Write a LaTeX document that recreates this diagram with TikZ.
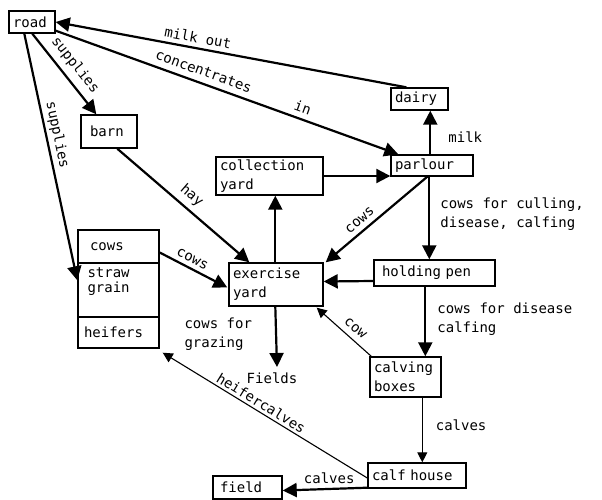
\documentclass[tikz,border=0pt]{standalone}
\usepackage{fontspec}
\newfontfamily\labfont{DejaVu Sans Mono}
\newcommand\myfs{\labfont\fontsize{14}{19}\selectfont}
\usetikzlibrary{arrows.meta,calc}
\begin{document}
\begin{tikzpicture}[x=1pt,y=-1pt,
  box/.style={draw,line width=1.4pt,inner ysep=2pt,inner xsep=4pt,align=left,font=\myfs},
  thickarrow/.style={line width=2.2pt,-{Triangle[length=14pt,width=14pt]}},
  thinarrow/.style={line width=1.1pt,-{Triangle[length=10pt,width=10pt]}},
  lab/.style={font=\myfs,inner sep=1pt},
  slab/.style={font=\myfs,inner sep=1pt,sloped}]
\useasboundingbox (0,0) rectangle (602,500);

% boxes
\node[box,text width=38pt,minimum height=22pt] (road) at (32,22) {road};
\node[box,inner xsep=9pt,text width=38pt,minimum height=33pt] (barn) at (109,131.5) {barn};
\node[box,text width=99pt,minimum height=38pt] (colly) at (269.5,176) {collection\\yard};
\node[box,text width=49pt,minimum height=22pt] (dairy) at (419.5,99) {dairy};
\node[box,text width=74pt,minimum height=21pt] (parlour) at (432,165.5) {parlour};
\node[box,text width=86pt,minimum height=43pt] (exercise) at (276,284.5) {exercise\\yard};
\node[box,inner xsep=12pt,text width=57pt,minimum height=33pt] (cows) at (118.5,246.5) {cows};
\node[draw,line width=1.4pt,minimum width=81pt,minimum height=54pt,inner sep=0pt,
  label={[font=\myfs,anchor=north west,align=left,inner sep=0pt,xshift=10pt,yshift=-5pt]north west:straw\\[-4pt]grain}]
  (straw) at (118.5,290) {};
\node[box,inner xsep=6pt,text width=69pt,minimum height=31pt] (heifers) at (118.5,332.5) {heifers};
\node[box,inner xsep=8pt,text width=105pt,minimum height=26pt] (holding) at (434.5,273) {holding pen};
\node[box,text width=63pt,minimum height=40pt] (calving) at (405.5,377) {calving\\boxes};
\node[box,text width=90pt,minimum height=25pt] (calf) at (417,475.5) {calf house};
\node[box,inner xsep=7pt,text width=55pt,minimum height=23pt] (field) at (247.5,487.5) {field};
\node[lab] (fields) at (272,378) {Fields};
\coordinate (fieldtip) at (277,367);

% connectors
\draw[thickarrow] ($(road.south west)+(24,0)$) -- ($(barn.north west)+(16,0)$)
  node[slab,pos=0.5,above=5pt] {supplies};
\draw[thickarrow] ($(road.south west)+(16,0)$) -- ($(straw.north west)+(0,18)$)
  node[slab,pos=0.42,above=2pt] {supplies};
\draw[thickarrow] ($(dairy.north west)+(16,0)$) -- (road.east)
  node[slab,pos=0.6,above=3pt] {milk out};
\draw[thickarrow] ($(road.south east)+(0,-3)$) -- ($(parlour.north west)+(8,0)$)
  node[slab,pos=0.42,above=5pt] {concentrates}
  node[slab,pos=0.71,above=4pt] {in};
\draw[thickarrow] ($(parlour.north west)+(40,0)$) -- ($(dairy.south west)+(40,0)$)
  node[lab,pos=0.4,right=16pt] {milk};
\draw[thickarrow] (colly.east) -- (colly.east -| parlour.west);
\draw[thickarrow] ($(parlour.south west)+(39,0)$) -- ($(holding.north west)+(56,0)$)
  node[lab,pos=0.45,anchor=west,xshift=9pt,align=left] {cows for culling,\\disease, calfing};
\draw[thickarrow] ($(parlour.south west)+(37,0)$) -- ($(exercise.north east)+(2,0)$)
  node[slab,pos=0.6,above=4pt] {cows};
\draw[thickarrow] ($(barn.south west)+(37,0)$) -- ($(exercise.north west)+(21,0)$)
  node[slab,pos=0.5,above=4pt] {hay};
\draw[thickarrow] ($(cows.east)+(0,6)$) -- ($(exercise.west)+(-1,3)$)
  node[slab,pos=0.42,above=3pt] {cows};
\draw[thickarrow] ($(holding.west)+(0,8)$) -- ($(exercise.east)+(0,-3)$);
\draw[thickarrow] ($(holding.south west)+(52,0)$) -- ($(calving.north west)+(56,0)$)
  node[lab,pos=0.47,anchor=west,xshift=10pt,align=left] {cows for disease\\calfing};
\draw[thinarrow] ($(calving.north west)+(2,0)$) -- ($(exercise.south east)+(-7,1)$)
  node[slab,pos=0.42,above=5pt] {cow};
\draw[thinarrow] ($(calving.south west)+(53,0)$) -- ($(calf.north west)+(55,0)$)
  node[lab,pos=0.42,anchor=west,xshift=12pt] {calves};
\draw[thinarrow] ($(calf.west)+(0,2.5)$) -- ($(heifers.south east)+(3,4)$)
  node[slab,pos=0.54,above=1.5pt] {heifercalves};
\draw[thickarrow] ($(calf.south west)+(0,-1)$) -- ($(field.east)+(0,3)$)
  node[lab,pos=0.45,above=3pt] {calves};
\draw[thickarrow] ($(exercise.north west)+(47,0)$) -- ($(colly.south west)+(60,0)$);
\draw[thickarrow] ($(exercise.south west)+(47,0)$) -- (fieldtip)
  node[lab,pos=0.45,anchor=east,xshift=-22pt,align=left] {cows for\\grazing};
\end{tikzpicture}
\end{document}
